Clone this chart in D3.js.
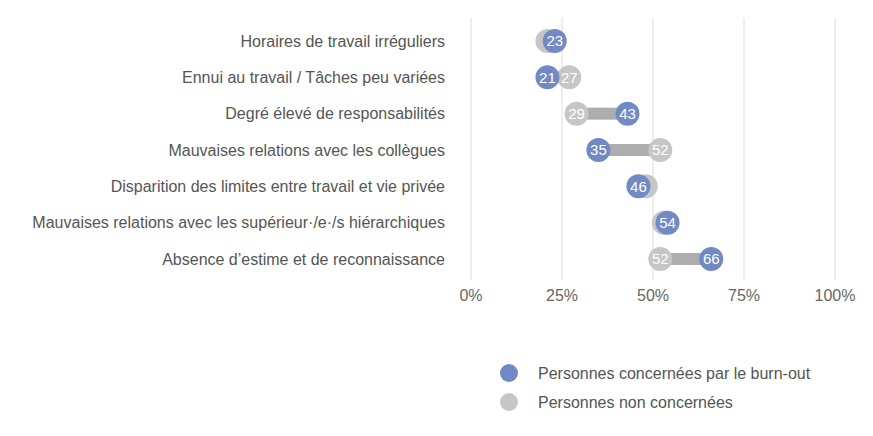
<!DOCTYPE html>
<html><head><meta charset="utf-8">
<script src="https://cdn.jsdelivr.net/npm/d3@7"></script>
<style>body{margin:0;background:#fff}svg{display:block}text{font-family:"Liberation Sans",Arial,sans-serif}</style>
</head><body><svg id="c" width="873" height="436"></svg>
<script>
const categories = ["Horaires de travail irréguliers","Ennui au travail / Tâches peu variées","Degré élevé de responsabilités","Mauvaises relations avec les collègues","Disparition des limites entre travail et vie privée","Mauvaises relations avec les supérieur·/e·/s hiérarchiques","Absence d’estime et de reconnaissance"];
const burnout = [23,21,43,35,46,54,66];
const nonBurnout = [21,27,29,52,48,53,52];
const showNonLabel = [false,true,true,true,false,false,true];
const ticks = [0,25,50,75,100];
const legendLabels = ["Personnes concernées par le burn-out","Personnes non concernées"];
const blue = "#7189c4", grey = "#c6c6c6", barGrey = "#adadad";

const svg = d3.select("#c");
const x = d3.scaleLinear().domain([0,100]).range([471,835]);
const y = d3.scalePoint().domain(categories).range([41,259]);

svg.append("g").selectAll("line").data(ticks).join("line")
  .attr("x1",d=>x(d)).attr("x2",d=>x(d)).attr("y1",18).attr("y2",280)
  .attr("stroke","#dcdcdc").attr("stroke-width",1);
svg.append("g").selectAll("text").data(ticks).join("text")
  .attr("x",d=>x(d)).attr("y",301).attr("text-anchor","middle")
  .attr("font-size",16).attr("fill","#666").text(d=>d+"%");

svg.append("g").selectAll("text").data(categories).join("text")
  .attr("x",445).attr("y",d=>y(d)).attr("dy","0.35em").attr("text-anchor","end")
  .attr("font-size",16).attr("fill","#555").text(d=>d);

const rows = categories.map((c,i)=>({c,b:burnout[i],n:nonBurnout[i],sn:showNonLabel[i]}));
const g = svg.append("g");
g.selectAll("rect").data(rows).join("rect")
  .attr("x",d=>x(Math.min(d.b,d.n))).attr("width",d=>Math.abs(x(d.b)-x(d.n)))
  .attr("y",d=>y(d.c)-6).attr("height",12).attr("fill",barGrey);
const r = 12;
g.selectAll("circle.n").data(rows).join("circle").attr("class","n")
  .attr("cx",d=>x(d.n)).attr("cy",d=>y(d.c)).attr("r",r).attr("fill",grey);
g.selectAll("text.n").data(rows.filter(d=>d.sn)).join("text").attr("class","n")
  .attr("x",d=>x(d.n)).attr("y",d=>y(d.c)).attr("dy","0.35em").attr("text-anchor","middle")
  .attr("font-size",15).attr("fill","#fff").text(d=>d.n);
g.selectAll("circle.b").data(rows).join("circle").attr("class","b")
  .attr("cx",d=>x(d.b)).attr("cy",d=>y(d.c)).attr("r",r).attr("fill",blue);
g.selectAll("text.b").data(rows).join("text").attr("class","b")
  .attr("x",d=>x(d.b)).attr("y",d=>y(d.c)).attr("dy","0.35em").attr("text-anchor","middle")
  .attr("font-size",15).attr("fill","#fff").text(d=>d.b);

const lg = svg.append("g").selectAll("g").data(legendLabels).join("g")
  .attr("transform",(d,i)=>`translate(0,${373+i*29})`);
lg.append("circle").attr("cx",509).attr("cy",0).attr("r",9).attr("fill",(d,i)=>i?grey:blue);
lg.append("text").attr("x",538).attr("y",0).attr("dy","0.35em").attr("font-size",16).attr("fill","#555").text(d=>d);
</script></body></html>
